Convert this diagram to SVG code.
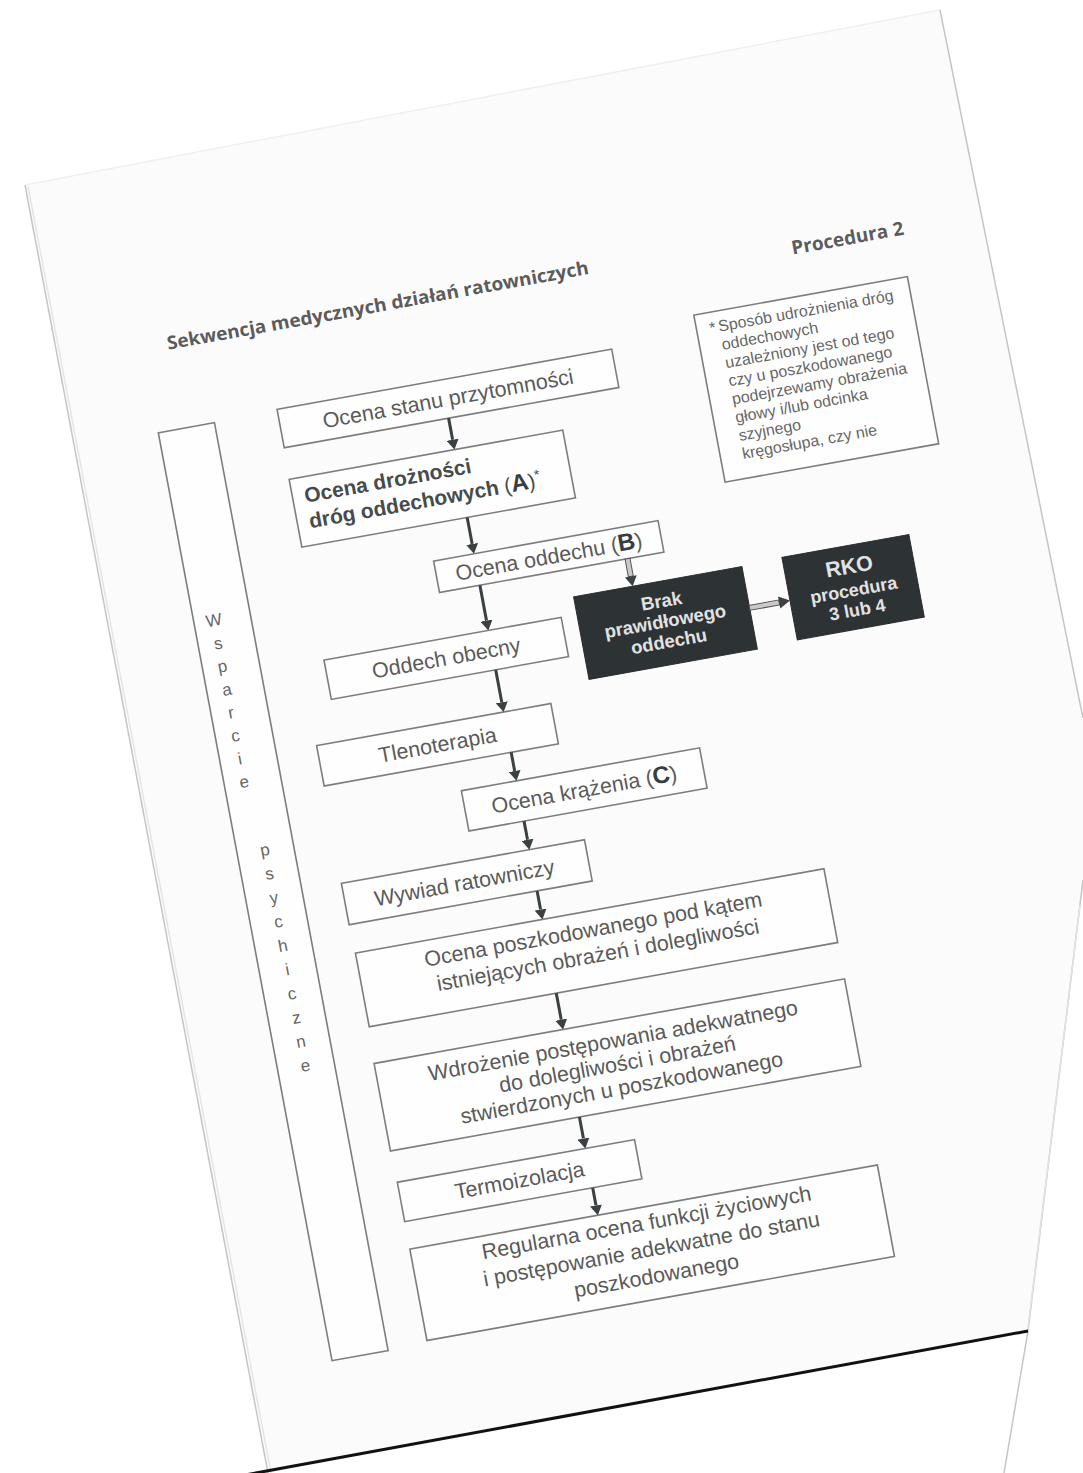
<svg xmlns="http://www.w3.org/2000/svg" width="1083" height="1473" viewBox="0 0 1083 1473">
<style>
.box{fill:#fefefe;stroke:#7d7d7d;stroke-width:1.6}
.dark{fill:#2d3234;stroke:#2a2e30;stroke-width:1}
.t{font-family:"Liberation Sans",Arial,sans-serif;fill:#5a5a5a;font-size:21.5px;text-anchor:middle}
.tb{font-family:"Liberation Sans",Arial,sans-serif;fill:#474b4d;font-size:21px;font-weight:bold}
.tw{font-family:"Liberation Sans",Arial,sans-serif;fill:#e2e2e2;font-weight:bold;text-anchor:middle}
.note{font-family:"Liberation Sans",Arial,sans-serif;fill:#666;font-size:16px}
.ws{font-family:"Liberation Sans",Arial,sans-serif;fill:#666;font-size:17px;text-anchor:middle}
.hd{font-family:"Open Sans","Liberation Sans",sans-serif;fill:#5c5c5c;font-weight:bold}
.ar{stroke:#3b4043;stroke-width:3;fill:none}
.hol{fill:#c9c9c9;stroke:#555;stroke-width:1}
.head{fill:#3b4043}
.edge{fill:none;stroke:#c4c6c4;stroke-width:1.5}
</style>
<defs>
<marker id="ah" markerUnits="userSpaceOnUse" markerWidth="10" markerHeight="12" viewBox="0 0 10 12" refX="0" refY="6" orient="auto">
<path d="M0,0 L10,6 L0,12 z" fill="#3b4043"/>
</marker>
</defs>
<rect x="0" y="0" width="1083" height="1473" fill="#ffffff"/>
<g id="page">
<polygon points="25,185 940,10 1083,718 1083,880 1028,1331 268,1473" fill="#fbfbfb"/>
<line x1="25" y1="185" x2="940" y2="10" stroke="#f0f0f0" stroke-width="1.5"/>
<line x1="25" y1="185" x2="268" y2="1473" class="edge"/>
<line x1="28" y1="186" x2="271" y2="1473" stroke="#e4e6e4" stroke-width="1.5"/>
<line x1="940" y1="10" x2="1083" y2="718" class="edge"/>
<line x1="1083" y1="880" x2="1028" y2="1331" class="edge"/>
<line x1="1080" y1="905" x2="1027" y2="1336" stroke="#e2e2e2" stroke-width="1.5"/>
<line x1="1028" y1="1331" x2="1004" y2="1473" class="edge"/>
<line x1="245" y1="1475" x2="1028" y2="1331" stroke="#111" stroke-width="3"/>
</g>
<g transform="matrix(0.9842,-0.1771,0.1840,0.9829,0,0)">
<g id="title">
<text class="hd" x="101" y="374" font-size="18.5" textLength="428" lengthAdjust="spacingAndGlyphs">Sekwencja medycznych działań ratowniczych</text>
<text class="hd" x="846" y="391" font-size="19" text-anchor="end">Procedura 2</text>
</g>
<g id="note">
<rect class="box" x="624" y="433" width="217" height="170" stroke-width="1.4"/>
<text class="note" x="637" y="454">*</text>
<text class="note"><tspan x="646" y="454">Sposób udrożnienia dróg</tspan><tspan x="646" y="472.5">oddechowych</tspan><tspan x="646" y="491">uzależniony jest od tego</tspan><tspan x="646" y="509.5">czy u poszkodowanego</tspan><tspan x="646" y="528">podejrzewamy obrażenia</tspan><tspan x="646" y="546.5">głowy i/lub odcinka</tspan><tspan x="646" y="565">szyjnego</tspan><tspan x="646" y="583.5">kręgosłupa, czy nie</tspan></text>
</g>
<g id="wsparcie">
<rect class="box" x="76" y="454" width="57" height="944"/>
<text class="ws"><tspan x="96" y="654">W</tspan><tspan x="96" y="677.5">s</tspan><tspan x="96" y="701">p</tspan><tspan x="96" y="724.5">a</tspan><tspan x="96" y="748">r</tspan><tspan x="96" y="771.5">c</tspan><tspan x="96" y="795">i</tspan><tspan x="96" y="818.5">e</tspan><tspan x="104" y="889">p</tspan><tspan x="104" y="913.4">s</tspan><tspan x="104" y="937.8">y</tspan><tspan x="104" y="962.2">c</tspan><tspan x="104" y="986.6">h</tspan><tspan x="104" y="1011">i</tspan><tspan x="104" y="1035.4">c</tspan><tspan x="104" y="1059.8">z</tspan><tspan x="104" y="1084.2">n</tspan><tspan x="104" y="1108.6">e</tspan></text>
</g>
<g id="n1">
<rect class="box" x="197" y="452" width="340" height="39"/>
<text class="t" x="367" y="479">Ocena stanu przytomności</text>
</g>
<g id="n2">
<rect class="box" x="196" y="523" width="278" height="69"/>
<text class="tb" x="208" y="549">Ocena drożności</text>
<text class="tb" x="208" y="575">dróg oddechowych <tspan font-weight="normal">(</tspan><tspan font-size="24" fill="#3a3d3f">A</tspan><tspan font-weight="normal">)</tspan><tspan font-size="14" dy="-8" font-weight="normal">*</tspan></text>
</g>
<g id="n3">
<rect class="box" x="323" y="629" width="228" height="32"/>
<text class="t" x="437" y="652.5">Ocena oddechu (<tspan font-weight="bold" font-size="24" fill="#3a3d3f">B</tspan>)</text>
</g>
<g id="n_brak">
<rect class="dark" x="454" y="689" width="171" height="84"/>
<text class="tw" font-size="18.5"><tspan x="539.5" y="715">Brak</tspan><tspan x="539.5" y="735.5">prawidłowego</tspan><tspan x="539.5" y="756">oddechu</tspan></text>
</g>
<g id="n_rko">
<rect class="dark" x="666" y="687" width="129" height="84"/>
<text class="tw"><tspan x="730.5" y="715" font-size="21.5">RKO</tspan><tspan x="730.5" y="738" font-size="18">procedura</tspan><tspan x="730.5" y="758" font-size="18">3 lub 4</tspan></text>
</g>
<g id="n4">
<rect class="box" x="197" y="707" width="241" height="40"/>
<text class="t" x="317.5" y="734">Oddech obecny</text>
</g>
<g id="n5">
<rect class="box" x="174" y="790" width="238" height="41"/>
<text class="t" x="293" y="818">Tlenoterapia</text>
</g>
<g id="n6">
<rect class="box" x="308" y="860" width="242" height="41"/>
<text class="t" x="429" y="888">Ocena krążenia (<tspan font-weight="bold" font-size="24" fill="#3a3d3f">C</tspan>)</text>
</g>
<g id="n7">
<rect class="box" x="173" y="930" width="247" height="42"/>
<text class="t" x="294" y="958.5">Wywiad ratowniczy</text>
</g>
<g id="n8">
<rect class="box" x="174" y="1001" width="476" height="75"/>
<text class="t" font-size="22"><tspan x="412" y="1027">Ocena poszkodowanego pod kątem</tspan><tspan x="412" y="1053">istniejących obrażeń i dolegliwości</tspan></text>
</g>
<g id="n9">
<rect class="box" x="172" y="1113" width="478" height="89"/>
<text class="t" font-size="22"><tspan x="411" y="1140">Wdrożenie postępowania adekwatnego</tspan><tspan x="411" y="1164">do dolegliwości i obrażeń</tspan><tspan x="411" y="1188">stwierdzonych u poszkodowanego</tspan></text>
</g>
<g id="n10">
<rect class="box" x="173" y="1234" width="241" height="40"/>
<text class="t" font-size="22" x="293.5" y="1261">Termoizolacja</text>
</g>
<g id="n11">
<rect class="box" x="173" y="1302" width="475" height="93"/>
<text class="t" font-size="22"><tspan x="410.5" y="1325">Regularna ocena funkcji życiowych</tspan><tspan x="410.5" y="1352">i postępowanie adekwatne do stanu</tspan><tspan x="410.5" y="1379">poszkodowanego</tspan></text>
</g>
<g id="connectors">
<line class="ar" x1="364" y1="491" x2="364" y2="513" marker-end="url(#ah)"/>
<line class="ar" x1="364" y1="592" x2="364" y2="619" marker-end="url(#ah)"/>
<line class="ar" x1="364" y1="661" x2="364" y2="697" marker-end="url(#ah)"/>
<line class="ar" x1="364" y1="747" x2="364" y2="780" marker-end="url(#ah)"/>
<line class="ar" x1="364" y1="831" x2="364" y2="850" marker-end="url(#ah)"/>
<line class="ar" x1="364" y1="901" x2="364" y2="920" marker-end="url(#ah)"/>
<line class="ar" x1="364" y1="972" x2="364" y2="991" marker-end="url(#ah)"/>
<line class="ar" x1="364" y1="1076" x2="364" y2="1103" marker-end="url(#ah)"/>
<line class="ar" x1="364" y1="1202" x2="364" y2="1224" marker-end="url(#ah)"/>
<line class="ar" x1="364" y1="1274" x2="364" y2="1292" marker-end="url(#ah)"/>
<rect class="hol" x="511.5" y="661" width="5" height="18"/>
<path class="head" d="M508,679 L520,679 L514,689 z"/>
<rect class="hol" x="625" y="728.5" width="30" height="5"/>
<path class="head" d="M655,725 L655,737 L666,731 z"/>
</g>
</g>
</svg>
